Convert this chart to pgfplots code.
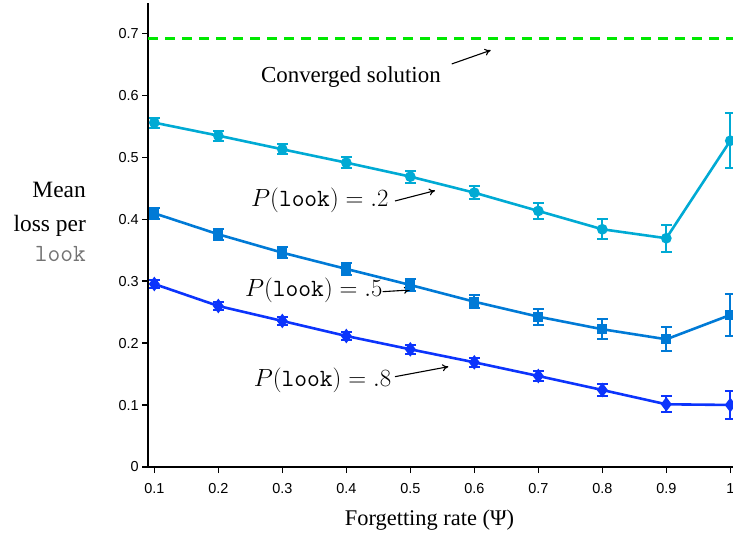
\documentclass[border=0pt]{standalone}
\usepackage[no-math]{fontspec}
\setmainfont{Liberation Serif}
\setsansfont{Liberation Sans}
\usepackage{pgfplots}
\pgfplotsset{compat=1.18}
\usetikzlibrary{arrows.meta}
\definecolor{cA}{RGB}{0,170,212}
\definecolor{cB}{RGB}{0,122,214}
\definecolor{cC}{RGB}{12,52,252}
\definecolor{cG}{RGB}{0,232,0}
\definecolor{lookgray}{RGB}{115,115,115}

\pgfplotstableread{
x    y       e
0.1  0.5562  0.008
0.2  0.5352  0.008
0.3  0.5132  0.008
0.4  0.4916  0.009
0.5  0.4690  0.0095
0.6  0.4431  0.0105
0.7  0.4136  0.013
0.8  0.3840  0.016
0.9  0.3695  0.022
1.0  0.5270  0.044
}\lookA
\pgfplotstableread{
x    y       e
0.1  0.4098  0.009
0.2  0.3759  0.009
0.3  0.3462  0.009
0.4  0.3199  0.009
0.5  0.2940  0.009
0.6  0.2670  0.0105
0.7  0.2428  0.0127
0.8  0.2225  0.016
0.9  0.2063  0.0196
1.0  0.2456  0.034
}\lookB
\pgfplotstableread{
x    y       e
0.1  0.2956  0.007
0.2  0.2601  0.007
0.3  0.2359  0.007
0.4  0.2116  0.007
0.5  0.1901  0.007
0.6  0.1691  0.0073
0.7  0.1470  0.0086
0.8  0.1244  0.0097
0.9  0.1013  0.0127
1.0  0.1002  0.0226
}\lookC

\begin{document}
\begin{tikzpicture}
\begin{axis}[
  at={(0,0)}, anchor=south west,
  scale only axis,
  width=585bp, height=463.7bp,
  xmin=0.0906, xmax=1.0047,
  ymin=0, ymax=0.749,
  axis lines*=left,
  axis line style={line width=1.6bp, black},
  clip=false,
  tick align=outside,
  major tick length=6bp,
  tick style={line width=1.6bp, black},
  xtick={0.1,0.2,0.3,0.4,0.5,0.6,0.7,0.8,0.9,1},
  xticklabels={0.1,0.2,0.3,0.4,0.5,0.6,0.7,0.8,0.9,1},
  ytick={0,0.1,0.2,0.3,0.4,0.5,0.6,0.7},
  yticklabels={0,0.1,0.2,0.3,0.4,0.5,0.6,0.7},
  /pgf/number format/assume math mode=true,
  ticklabel style={font=\fontsize{14.5}{17}\selectfont\sffamily},
  xticklabel style={yshift=-7bp},
  error bars/error mark=|,
  error bars/error bar style={line width=2bp},
  error bars/error mark options={line width=2bp, mark size=5.5bp},
]
\addplot[cG, line width=2.6bp, dash pattern=on 10bp off 7bp] coordinates {(0.0906,0.6926) (1.0047,0.6926)};

\addplot[cA, line width=2.6bp, mark=*, mark size=4bp, mark options={solid},
  error bars/.cd, y dir=both, y explicit]
  table[x=x, y=y, y error=e] {\lookA};
\addplot[cB, line width=2.6bp, mark=square*, mark size=3.6bp, mark options={solid},
  error bars/.cd, y dir=both, y explicit]
  table[x=x, y=y, y error=e] {\lookB};
\addplot[cC, line width=2.6bp, mark=diamond*, mark size=5.2bp, mark options={solid},
  error bars/.cd, y dir=both, y explicit]
  table[x=x, y=y, y error=e] {\lookC};

% annotations
\node[anchor=base, inner sep=0pt, font=\fontsize{23}{27}\selectfont] at (axis cs:0.4072,0.6215) {Converged solution};
\draw[line width=1.1bp, -{To[length=6bp, width=7bp]}] (axis cs:0.5647,0.651) -- (axis cs:0.6256,0.6731);

\node[anchor=base, inner sep=0pt, font=\fontsize{24.88}{28}\selectfont] at (axis cs:0.3587,0.4200) {$P(\mathtt{look}) = .2$};
\draw[line width=1.1bp, -{To[length=6bp, width=7bp]}] (axis cs:0.4761,0.4297) -- (axis cs:0.5386,0.4464);

\node[anchor=base, inner sep=0pt, font=\fontsize{24.88}{28}\selectfont] at (axis cs:0.3493,0.2746) {$P(\mathtt{look}) = .5$};
\draw[line width=1.1bp, -{To[length=6bp, width=7bp]}] (axis cs:0.4569,0.2832) -- (axis cs:0.4995,0.2859);

\node[anchor=base, inner sep=0pt, font=\fontsize{24.88}{28}\selectfont] at (axis cs:0.3628,0.1297) {$P(\mathtt{look}) = .8$};
\draw[line width=1.1bp, -{To[length=6bp, width=7bp]}] (axis cs:0.4761,0.1459) -- (axis cs:0.5594,0.1620);

% axis labels
\node[anchor=base, inner sep=0pt, font=\fontsize{22.5}{26}\selectfont] at (axis cs:0.5300,0) [yshift=-58bp] {Forgetting rate (Ψ)};
\node[anchor=base east, inner sep=0pt, font=\fontsize{23.5}{27}\selectfont, xshift=-62.3bp, yshift=269bp] at (rel axis cs:0,0) {Mean};
\node[anchor=base east, inner sep=0pt, font=\fontsize{23.5}{27}\selectfont, xshift=-62.3bp, yshift=235.3bp] at (rel axis cs:0,0) {loss per};
\node[anchor=base east, inner sep=0pt, text=lookgray, font=\fontsize{24.8}{28}\selectfont\ttfamily, xshift=-62.3bp, yshift=205.3bp] at (rel axis cs:0,0) {look};
\end{axis}
\pgfresetboundingbox
\path[use as bounding box] (-148.3bp,-68bp) rectangle (584.7bp,467bp);
\end{tikzpicture}
\end{document}
